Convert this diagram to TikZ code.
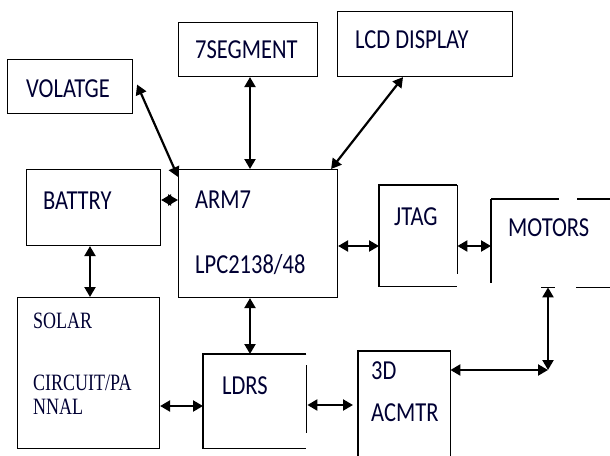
\documentclass[tikz,border=0pt]{standalone}
\usepackage{fontspec}
\setmainfont{Carlito}
\newfontfamily\serifx{Liberation Serif}
\usetikzlibrary{arrows.meta,calc}
\tikzset{
  boxx/.style={draw, line width=1.1pt, anchor=north west, inner sep=0pt},
  hidebox/.style={anchor=north west, inner sep=0pt},
  edge/.style={line width=1.1pt},
  lbl/.style={anchor=west, inner sep=0pt, font=\fontsize{22.5}{26}\selectfont, text=black!80!blue},
  slbl/.style={anchor=west, inner sep=0pt, font=\serifx\fontsize{18}{22}\selectfont, text=black!80!blue},
  dbl/.style={line width=2.2pt, {Triangle[length=10pt,width=11pt]}-{Triangle[length=10pt,width=11pt]}},
}
\newcommand{\tall}[1]{\scalebox{1}[1.22]{#1}}
\newcommand{\tallser}[1]{\scalebox{1}[1.3]{#1}}
\begin{document}
\begin{tikzpicture}[x=1pt,y=-1pt]
\useasboundingbox (0,0) rectangle (610,455);
% boxes
\node[boxx, minimum width=125pt, minimum height=54pt] (volt) at (7,59) {};
\node[boxx, minimum width=139pt, minimum height=54pt] (seg) at (178,22) {};
\node[boxx, minimum width=175pt, minimum height=65pt] (lcd) at (337,11) {};
\node[boxx, minimum width=159pt, minimum height=128pt] (arm) at (178,169) {};
\node[boxx, minimum width=134pt, minimum height=76pt] (bat) at (26,169) {};
\node[boxx, minimum width=142pt, minimum height=151pt] (sol) at (17,297) {};
\node[hidebox, minimum width=78pt, minimum height=101pt] (jtag) at (379,185) {};
\node[hidebox, minimum width=119pt, minimum height=88pt] (mot) at (491,199) {};
\node[hidebox, minimum width=103pt, minimum height=94pt] (ldr) at (203,354) {};
\node[hidebox, minimum width=92pt, minimum height=110pt] (acm) at (358,351) {};
% partial box edges
\draw[edge] (jtag.north east) -- (jtag.north west) -- (jtag.south west) -- (jtag.south east);
\draw[edge] (jtag.north east) -- ($(jtag.south east)+(0,-12)$);
\draw[edge] (mot.north west) -- ($(mot.north west)+(68,0)$);
\draw[edge] ($(mot.north west)+(86,0)$) -- (mot.north east);
\draw[edge] (mot.north west) -- ($(mot.south west)+(0,-4)$);
\draw[edge] ($(mot.south west)+(50,0)$) -- ($(mot.south west)+(64,0)$);
\draw[edge] ($(mot.south west)+(85,0)$) -- (mot.south east);
\draw[edge] (ldr.north east) -- (ldr.north west) -- (ldr.south west) -- (ldr.south east);
\draw[edge] ($(ldr.north east)+(0,11)$) -- ($(ldr.south east)+(0,-15)$);
\draw[edge] (acm.south west) -- (acm.north west) -- (acm.north east) -- (acm.south east);
% labels
\node[lbl] (tvolt) at (26,89) {\tall{VOLATGE}};
\node[lbl] (tseg) at (195,50) {\tall{7SEGMENT}};
\node[lbl] (tlcd) at (355,40) {\tall{LCD DISPLAY}};
\node[lbl] (tbat) at (43,201) {\tall{BATTRY}};
\node[lbl] (tarm) at (195,200) {\tall{ARM7}};
\node[lbl] (tlpc) at (195,265) {\tall{LPC2138/48}};
\node[lbl] (tjtag) at (394,217) {\tall{JTAG}};
\node[lbl] (tmot) at (508,228) {\tall{MOTORS}};
\node[slbl] (tsol) at (33,321) {\tallser{SOLAR}};
\node[slbl] (tcir) at (33,383) {\tallser{CIRCUIT/PA}};
\node[slbl] (tnn) at (33,407) {\tallser{NNAL}};
\node[lbl] (tldr) at (222,386) {\tall{LDRS}};
\node[lbl] (t3d) at (371,371) {\tall{3D}};
\node[lbl] (tacm) at (371,413) {\tall{ACMTR}};
% connectors
\coordinate (corner) at (548,370);
\draw[dbl] ($(volt.east)+(4,-2)$) -- ($(arm.north west)+(0,8)$);
\draw[dbl] (seg.south -| 250,0) -- (arm.north -| 250,0);
\draw[dbl] ($(lcd.south)+(-22,0)$) -- ($(arm.north east)+(-7,0)$);
\draw[dbl] (bat.east |- 0,200) -- (arm.west |- 0,200);
\draw[dbl] (bat.south -| 90,0) -- (sol.north -| 90,0);
\draw[dbl] (arm.east |- 0,246) -- (jtag.west |- 0,246);
\draw[dbl] (jtag.east |- 0,246) -- (mot.west |- 0,246);
\draw[dbl] (arm.south -| 250,0) -- (ldr.north -| 250,0);
\draw[dbl] (sol.east |- 0,406) -- (ldr.west |- 0,406);
\draw[dbl] ($(ldr.east |- 0,405)+(1,0)$) -- ($(acm.west |- 0,405)+(-5,0)$);
\draw[dbl] (acm.east |- corner) -- (corner);
\draw[dbl] (mot.south -| corner) -- (corner);
\end{tikzpicture}
\end{document}
